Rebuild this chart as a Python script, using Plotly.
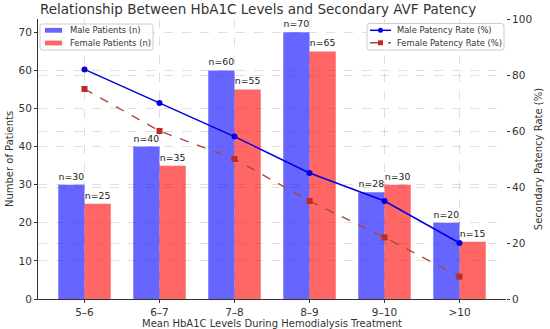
import plotly.graph_objects as go

categories = ["5–6", "6–7", "7–8", "8–9", "9–10", ">10"]
male_patients = [30, 40, 60, 70, 28, 20]
female_patients = [25, 35, 55, 65, 30, 15]
male_patency = [82, 70, 58, 45, 35, 20]
female_patency = [75, 60, 50, 35, 22, 8]
bar_legend_labels = ["Male Patients (n)", "Female Patients (n)"]
line_legend_labels = ["Male Patency Rate (%)", "Female Patency Rate (%)"]

FONT = "DejaVu Sans"
W = 0.35
MALE_BAR = "rgba(0,0,255,0.6)"
FEMALE_BAR = "rgba(255,0,0,0.6)"
MALE_LINE = "#0000e0"
FEMALE_LINE = "#a84a38"
FEMALE_MARK = "#c02a20"

# plot area in pixels
L, R, T, B = 38, 506, 19, 299
PW, PH = R - L, B - T


def px(x):
    return (x - L) / PW


def py(y):
    return (B - y) / PH


xpos = list(range(len(categories)))

fig = go.Figure()
fig.add_trace(go.Bar(
    x=xpos, y=male_patients, width=W, offset=-W,
    marker=dict(color=MALE_BAR, line=dict(width=0)),
    name=bar_legend_labels[0], showlegend=False,
    text=[f"n={v}" for v in male_patients], textposition="outside",
    textfont=dict(family=FONT, size=9.3, color="#222"), cliponaxis=False,
))
fig.add_trace(go.Bar(
    x=xpos, y=female_patients, width=W, offset=0,
    marker=dict(color=FEMALE_BAR, line=dict(width=0)),
    name=bar_legend_labels[1], showlegend=False,
    text=[f"n={v}" for v in female_patients], textposition="outside",
    textfont=dict(family=FONT, size=9.3, color="#222"), cliponaxis=False,
))
fig.add_trace(go.Scatter(
    x=xpos, y=male_patency, yaxis="y2", mode="lines+markers",
    line=dict(color=MALE_LINE, width=1.5),
    marker=dict(symbol="circle", size=6, color=MALE_LINE),
    name=line_legend_labels[0], showlegend=False,
))
fig.add_trace(go.Scatter(
    x=xpos, y=female_patency, yaxis="y2", mode="lines+markers",
    line=dict(color=FEMALE_LINE, width=1.4, dash="dash"),
    marker=dict(symbol="square", size=6, color=FEMALE_MARK),
    name=line_legend_labels[1], showlegend=False,
))


def rounded_box(x0, y0, x1, y1, r=2.5):
    # pixel coordinates -> paper path with rounded corners
    pts = [
        f"M {px(x0 + r)} {py(y0)}",
        f"L {px(x1 - r)} {py(y0)}",
        f"Q {px(x1)} {py(y0)} {px(x1)} {py(y0 + r)}",
        f"L {px(x1)} {py(y1 - r)}",
        f"Q {px(x1)} {py(y1)} {px(x1 - r)} {py(y1)}",
        f"L {px(x0 + r)} {py(y1)}",
        f"Q {px(x0)} {py(y1)} {px(x0)} {py(y1 - r)}",
        f"L {px(x0)} {py(y0 + r)}",
        f"Q {px(x0)} {py(y0)} {px(x0 + r)} {py(y0)}",
        "Z",
    ]
    return dict(type="path", xref="paper", yref="paper", path=" ".join(pts),
                fillcolor="rgba(255,255,255,0.8)", line=dict(color="#cccccc", width=1),
                layer="above")


shapes = []
annotations = []
LEG_FONT = dict(family=FONT, size=8.4, color="#333")

# left legend (bars)
shapes.append(rounded_box(40, 24, 153, 50))
for i, (lab, col) in enumerate(zip(bar_legend_labels, [MALE_BAR, FEMALE_BAR])):
    yc = 30.3 + i * 12.7
    shapes.append(dict(type="rect", xref="paper", yref="paper",
                       x0=px(45), x1=px(62), y0=py(yc - 2.4), y1=py(yc + 2.4),
                       fillcolor=col, line=dict(width=0), layer="above"))
    annotations.append(dict(text=lab, x=px(67.5), y=py(yc), xref="paper", yref="paper",
                            xanchor="left", yanchor="middle", showarrow=False, font=LEG_FONT))

# right legend (lines)
shapes.append(rounded_box(367, 23.5, 504, 50))
for i, (lab, col, mcol, dash, sym) in enumerate(zip(
        line_legend_labels, [MALE_LINE, FEMALE_LINE], [MALE_LINE, FEMALE_MARK],
        ["solid", "dash"], ["circle", "rect"])):
    yc = 30.3 + i * 12.5
    shapes.append(dict(type="line", xref="paper", yref="paper",
                       x0=px(370), x1=px(391), y0=py(yc), y1=py(yc),
                       line=dict(color=col, width=1.5, dash=dash), layer="above"))
    shapes.append(dict(type=sym, xref="paper", yref="paper",
                       x0=px(378), x1=px(383), y0=py(yc - 2.5), y1=py(yc + 2.5),
                       fillcolor=mcol, line=dict(width=0), layer="above"))
    annotations.append(dict(text=lab, x=px(395), y=py(yc), xref="paper", yref="paper",
                            xanchor="left", yanchor="middle", showarrow=False, font=LEG_FONT))

grid = "rgba(0,0,0,0.12)"
fig.update_layout(
    width=550, height=329,
    margin=dict(l=L, r=550 - R, t=T, b=329 - B),
    paper_bgcolor="white", plot_bgcolor="white",
    barmode="overlay",
    font=dict(family=FONT, size=10.5, color="#333"),
    title=dict(text="Relationship Between HbA1C Levels and Secondary AVF Patency",
               x=40 / 550, xanchor="left", xref="container",
               y=1 - 5 / 329, yanchor="top", yref="container",
               font=dict(family=FONT, size=13.5, color="#333")),
    xaxis=dict(
        tickmode="array", tickvals=xpos, ticktext=categories, automargin=False,
        range=[-0.62, 5.62], showline=True, linecolor="#333", linewidth=1,
        ticks="outside", ticklen=3, tickcolor="#333",
        showgrid=True, gridcolor=grid, griddash="dash", gridwidth=0.8,
        zeroline=False, tickfont=dict(size=10.5),
        title=dict(text="Mean HbA1C Levels During Hemodialysis Treatment",
                   font=dict(size=10), standoff=2),
    ),
    yaxis=dict(
        range=[0, 73.5], dtick=10, showline=True, linecolor="#333", linewidth=1,
        automargin=False,
        ticks="outside", ticklen=3, tickcolor="#333",
        showgrid=True, gridcolor=grid, griddash="dash", gridwidth=0.8,
        zeroline=False, tickfont=dict(size=10.5),
        title=dict(text="Number of Patients", font=dict(size=10), standoff=3),
    ),
    yaxis2=dict(
        overlaying="y", side="right", range=[0, 100], dtick=20, automargin=False,
        showline=False, ticks="outside", ticklen=3, tickcolor="#333",
        showgrid=True, gridcolor=grid, griddash="dash", gridwidth=0.8,
        zeroline=False, tickfont=dict(size=10.5),
        title=dict(text="Secondary Patency Rate (%)", font=dict(size=10), standoff=3),
    ),
    shapes=shapes,
    annotations=annotations,
    showlegend=False,
)

fig.write_html("out.html",
               config={"displayModeBar": False},
               post_script="document.body.style.margin='0';document.body.style.padding='0';")
